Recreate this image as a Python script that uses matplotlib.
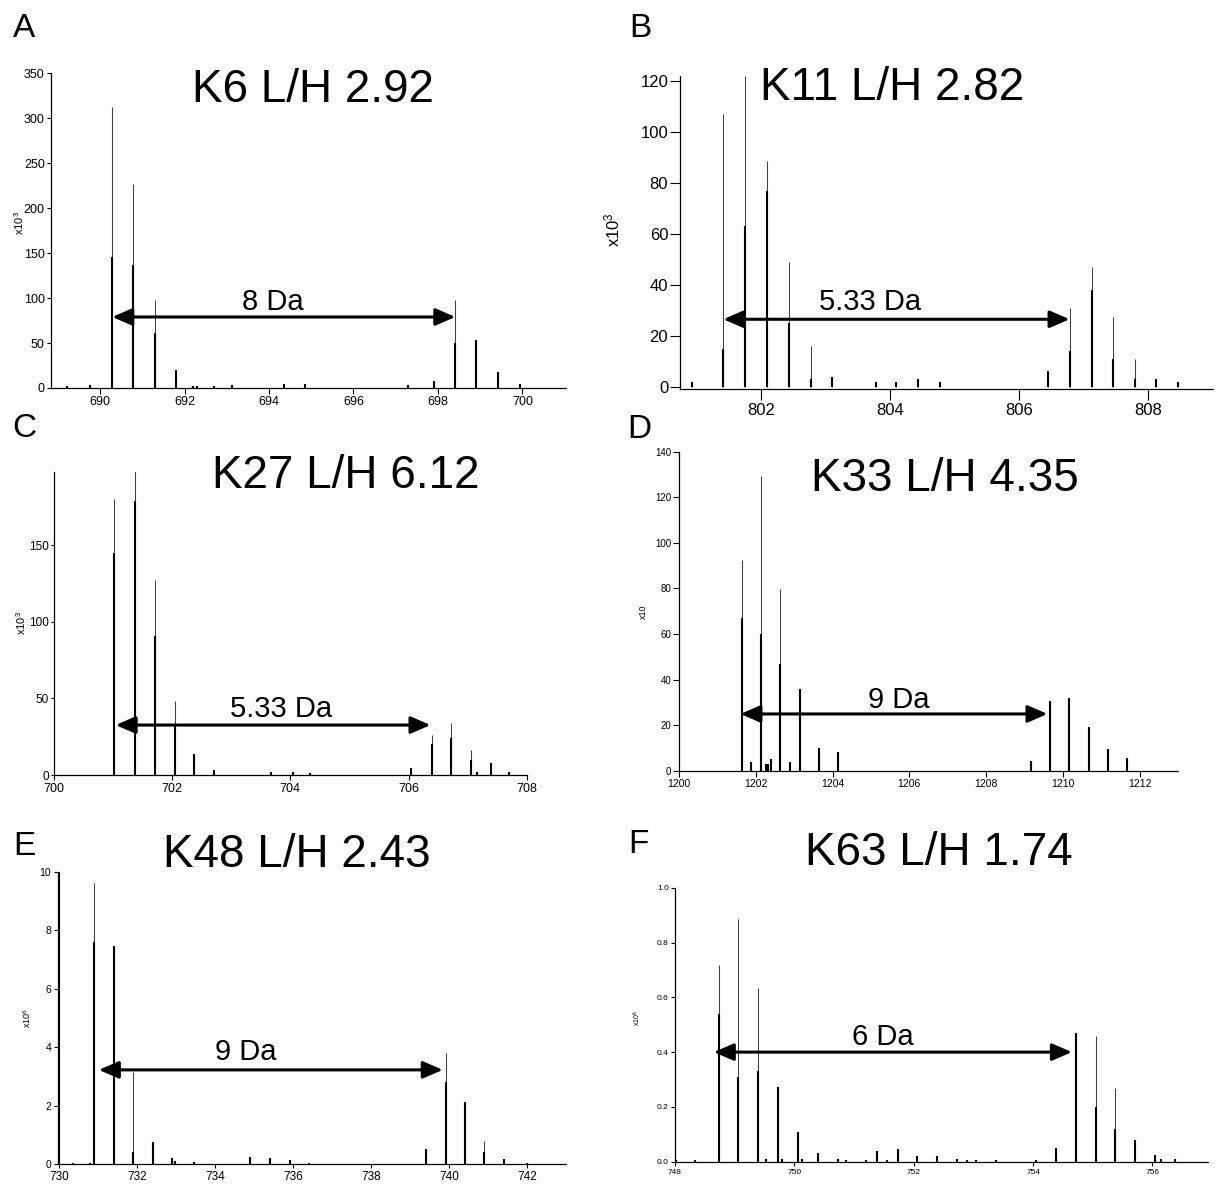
import matplotlib
matplotlib.use('Agg')
import matplotlib.pyplot as plt

plt.rcParams['font.family'] = ['Liberation Sans', 'DejaVu Sans']
plt.rcParams['mathtext.fontset'] = 'custom'
plt.rcParams['mathtext.rm'] = 'Liberation Sans'
plt.rcParams['mathtext.it'] = 'Liberation Sans:italic'
plt.rcParams['mathtext.bf'] = 'Liberation Sans:bold'

# ---------------- data (m/z, intensity, darker core part of peak) ----------------
A_mz = [689.23, 689.77, 690.29, 690.79, 691.29, 691.80, 692.19, 692.30, 692.71, 693.13,
        694.36, 694.86, 697.30, 697.90, 698.41, 698.91, 699.42, 699.93]
A_int = [2, 3, 312, 227, 98, 20, 2, 2, 2, 3, 4, 5, 3, 8, 98, 53, 18, 4]
A_core = [2, 3, 146, 137, 61, 20, 2, 2, 2, 3, 4, 5, 3, 8, 50, 53, 18, 4]

B_mz = [800.93, 801.42, 801.76, 802.09, 802.44, 802.77, 803.11, 803.78, 804.10, 804.43,
        804.77, 806.44, 806.78, 807.12, 807.45, 807.79, 808.12, 808.46]
B_int = [2, 107, 122, 88.5, 49, 16, 4, 2, 2, 3, 2, 6, 31, 47, 27.5, 10.7, 3, 2]
B_core = [2, 15, 63, 77, 25, 3, 4, 2, 2, 3, 2, 6, 14, 38, 11, 3, 3, 2]

C_mz = [701.03, 701.38, 701.71, 702.05, 702.37, 702.71, 703.67, 704.05, 704.34, 706.04,
        706.39, 706.71, 707.06, 707.16, 707.39, 707.70]
C_int = [180.5, 200, 127, 48, 14, 3, 2, 2, 1.5, 4.3, 26, 34, 16, 2, 7.6, 2]
C_core = [145, 179, 91, 33, 14, 3, 2, 2, 1.5, 4.3, 20, 24, 10, 2, 7.6, 2]

D_mz = [1201.63, 1201.88, 1202.13, 1202.26, 1202.33, 1202.40, 1202.63, 1202.90, 1203.14,
        1203.64, 1204.13, 1209.16, 1209.67, 1210.17, 1210.68, 1211.18, 1211.67]
D_int = [92.4, 4, 129.3, 3, 3, 5, 79.6, 4, 36, 10, 8, 4.4, 30.6, 32, 19, 9.5, 5.4]
D_core = [67, 4, 60, 3, 3, 5, 47, 4, 36, 10, 8, 4.4, 30.6, 32, 19, 9.5, 5.4]

E_mz = [729.99, 730.37, 730.80, 730.89, 731.40, 731.90, 732.40, 732.90, 732.98, 733.46,
        734.89, 735.40, 735.91, 736.40, 739.41, 739.91, 740.42, 740.91, 741.41, 742.01]
E_int = [10, 0.05, 0.05, 9.62, 7.47, 3.16, 0.76, 0.2, 0.1, 0.08, 0.25, 0.2, 0.15, 0.03,
         0.5, 3.79, 2.13, 0.8, 0.18, 0.03]
E_core = [10, 0.05, 0.05, 7.6, 7.47, 0.4, 0.76, 0.2, 0.1, 0.08, 0.25, 0.2, 0.15, 0.03,
          0.5, 2.8, 2.13, 0.4, 0.18, 0.03]

F_mz = [748.01, 748.34, 748.73, 749.06, 749.39, 749.52, 749.73, 749.80, 750.06, 750.13,
        750.40, 750.73, 750.87, 751.20, 751.39, 751.55, 751.73, 752.06, 752.39, 752.72,
        752.89, 753.05, 753.38, 754.04, 754.39, 754.72, 755.06, 755.38, 755.71, 756.04,
        756.14, 756.38]
F_int = [0.005, 0.005, 0.718, 0.885, 0.635, 0.01, 0.274, 0.01, 0.11, 0.01, 0.03, 0.01,
         0.007, 0.008, 0.04, 0.008, 0.045, 0.02, 0.02, 0.01, 0.005, 0.005, 0.005, 0.005,
         0.05, 0.468, 0.46, 0.27, 0.08, 0.025, 0.01, 0.01]
F_core = [0.005, 0.005, 0.54, 0.31, 0.33, 0.01, 0.274, 0.01, 0.11, 0.01, 0.03, 0.01,
          0.007, 0.008, 0.04, 0.008, 0.045, 0.02, 0.02, 0.01, 0.005, 0.005, 0.005, 0.005,
          0.05, 0.468, 0.2, 0.12, 0.08, 0.025, 0.01, 0.01]

panel_labels = ['A', 'B', 'C', 'D', 'E', 'F']
titles = ['K6 L/H 2.92', 'K11 L/H 2.82', 'K27 L/H 6.12',
          'K33 L/H 4.35', 'K48 L/H 2.43', 'K63 L/H 1.74']
ylabels = ['x10$^3$', 'x10$^3$', 'x10$^3$', 'x10', 'x10$^6$', 'x10$^6$']
da_texts = ['8 Da', '5.33 Da', '5.33 Da', '9 Da', '9 Da', '6 Da']
# arrow start / end (m/z) and height
arrow_x1 = [690.29, 801.42, 701.05, 1201.60, 731.02, 748.65]
arrow_x2 = [698.41, 806.78, 706.37, 1209.60, 739.84, 754.65]
arrow_y = [79, 26.5, 32.6, 24.9, 3.22, 0.40]
da_x = [694.08, 803.69, 703.85, 1205.73, 734.80, 751.48]
da_y = [87, 30, 38, 27.4, 3.56, 0.426]

xticks = [list(range(690, 701, 2)), list(range(802, 809, 2)), list(range(700, 709, 2)),
          list(range(1200, 1213, 2)), list(range(730, 743, 2)), list(range(748, 757, 2))]
yticks = [list(range(0, 351, 50)), list(range(0, 121, 20)), list(range(0, 151, 50)),
          list(range(0, 141, 20)), list(range(0, 11, 2)), [0.0, 0.2, 0.4, 0.6, 0.8, 1.0]]

# ---------------- layout (pixels) ----------------
W, H = 1217, 1188
layout = [
    dict(l=51, r=566, t=73.3, b=388, xlim=(688.84, 701.03), ylim=(0, 350), tfs=9, yfs=9,
         xtl=4, ytl=3, ylfs=8, ylx=19.5, yly=223, title=(313, 101.7), lab=(24, 37)),
    dict(l=680, r=1213, t=76, b=389.3, xlim=(800.75, 809.0), ylim=(-1, 122), tfs=12, yfs=12,
         xtl=8, ytl=7, ylfs=12, ylx=612, yly=230, title=(892, 100), lab=(640, 37)),
    dict(l=53.5, r=527, t=471.7, b=775, xlim=(700, 708), ylim=(0, 198), tfs=9, yfs=8.5,
         xtl=3.5, ytl=2, ylfs=8, ylx=21.4, yly=623, title=(346, 488), lab=(24.5, 437)),
    dict(l=679, r=1178, t=451.7, b=770.7, xlim=(1200, 1213), ylim=(0, 140), tfs=7.5, yfs=7,
         xtl=4, ytl=4, ylfs=6.5, ylx=643.3, yly=611.7, title=(944.5, 490.7), lab=(639.5, 438)),
    dict(l=57.5, r=566, t=871.7, b=1164, xlim=(729.96, 743), ylim=(0, 10), tfs=8.5, yfs=7.5,
         xtl=3, ytl=3, ylfs=6.5, ylx=27.2, yly=1018, title=(296.7, 866.7), lab=(24.3, 855)),
    dict(l=675, r=1208, t=887.7, b=1161.7, xlim=(748, 756.93), ylim=(0, 1.0), tfs=6, yfs=6,
         xtl=3, ytl=3, ylfs=5, ylx=637.4, yly=1018, title=(938.6, 865), lab=(638.4, 853)),
]

series = [(A_mz, A_int, A_core), (B_mz, B_int, B_core), (C_mz, C_int, C_core),
          (D_mz, D_int, D_core), (E_mz, E_int, E_core), (F_mz, F_int, F_core)]

fig = plt.figure(figsize=(W / 100, H / 100), dpi=100)

for i, L in enumerate(layout):
    mz, inten, core = series[i]
    rect = [L['l'] / W, 1 - L['b'] / H, (L['r'] - L['l']) / W, (L['b'] - L['t']) / H]
    ax = fig.add_axes(rect)
    ax.vlines(mz, 0, inten, color='0.25', lw=0.75)
    ax.vlines(mz, 0, core, color='black', lw=1.5)
    ax.set_xlim(*L['xlim'])
    ax.set_ylim(*L['ylim'])
    for s in ['top', 'right']:
        ax.spines[s].set_visible(False)
    for s in ['left', 'bottom']:
        ax.spines[s].set_linewidth(0.9)
    ax.set_xticks(xticks[i])
    ax.set_yticks(yticks[i])
    if i == 5:
        ax.set_yticklabels(['%.1f' % v for v in yticks[i]])
    ax.tick_params(axis='x', direction='out', length=L['xtl'], width=0.8,
                   labelsize=L['tfs'], pad=2)
    ax.tick_params(axis='y', direction='out', length=L['ytl'], width=0.8,
                   labelsize=L['yfs'], pad=1.5)
    ax.annotate('', xy=(arrow_x2[i], arrow_y[i]), xytext=(arrow_x1[i], arrow_y[i]),
                arrowprops=dict(arrowstyle='<|-|>,head_length=0.6,head_width=0.26',
                                lw=2.2, color='black', shrinkA=0, shrinkB=0,
                                mutation_scale=20))
    ax.text(da_x[i], da_y[i], da_texts[i], ha='center', va='baseline', fontsize=21)
    fig.text(L['ylx'] / W, 1 - L['yly'] / H, ylabels[i], rotation=90,
             ha='center', va='center', fontsize=L['ylfs'])
    fig.text(L['title'][0] / W, 1 - L['title'][1] / H, titles[i],
             ha='center', va='baseline', fontsize=33)
    fig.text(L['lab'][0] / W, 1 - L['lab'][1] / H, panel_labels[i],
             ha='center', va='baseline', fontsize=24)

fig.savefig('out.png', dpi=100, facecolor='white')
